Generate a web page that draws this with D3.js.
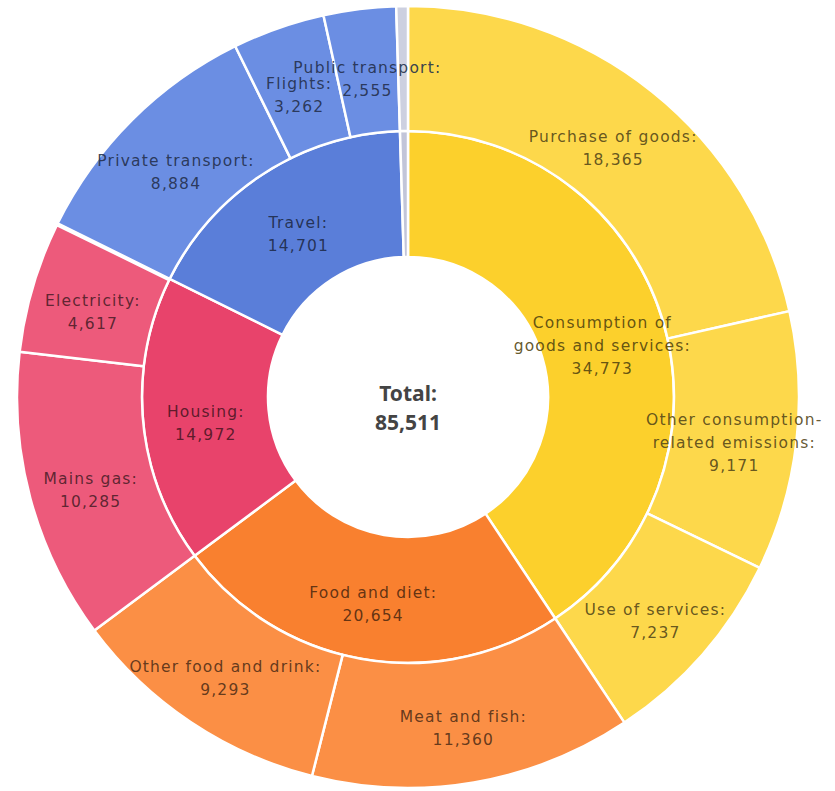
<!DOCTYPE html>
<html>
<head>
<meta charset="utf-8">
<script src="https://cdn.jsdelivr.net/npm/d3@7"></script>
<style>
  html, body { margin: 0; padding: 0; background: #ffffff; }
  svg { display: block; }
</style>
</head>
<body>
<svg id="chart" width="835" height="791"></svg>
<script>
// Emission groups (inner ring)
const groupNames = ["Consumption of\ngoods and services", "Food and diet", "Housing", "Travel", "Other"];
const groupValues = [34773, 20654, 14972, 14701, 411];
const groupColors = ["#fcd02c", "#f9802f", "#e8436b", "#5a7ed9", "#c2c5d9"];

// Emission sources (outer ring), each tied to a group by index
const itemNames = ["Purchase of goods", "Other consumption-\nrelated emissions", "Use of services",
                   "Meat and fish", "Other food and drink",
                   "Mains gas", "Electricity",
                   "Private transport", "Flights", "Public transport",
                   "Other"];
const itemGroups = [0, 0, 0, 1, 1, 2, 2, 3, 3, 3, 4];
const itemValues = [18365, 9171, 7237, 11360, 9293, 10285, 4617, 8884, 3262, 2555, 411];
const itemColors = ["#fdd84b", "#fdd84b", "#fdd84b", "#fb8f45", "#fb8f45",
                    "#ed5a7b", "#ed5a7b", "#6b8ee3", "#6b8ee3", "#6b8ee3", "#cdd0e0"];

const totalLabel = "Total:";
const totalValue = 85511;

const cx = 408, cy = 397;
const rHole = 140, rMid = 266, rOuter = 391;

const svg = d3.select("#chart");
const g = svg.append("g").attr("transform", `translate(${cx},${cy})`);

const fmt = d3.format(",");
const angle = d3.scaleLinear().domain([0, totalValue]).range([0, 2 * Math.PI]);

// Inner ring: cumulative positions of the groups
const groups = [];
let acc = 0;
groupValues.forEach((v, i) => {
  groups.push({ name: groupNames[i], value: v, color: groupColors[i],
                a0: angle(acc), a1: angle(acc + v), start: acc, r0: rHole, r1: rMid });
  acc += v;
});

// Outer ring: sources laid out from the start of their group
const items = [];
const groupCursor = groups.map(d => d.start);
itemValues.forEach((v, i) => {
  const gi = itemGroups[i];
  const s = groupCursor[gi];
  items.push({ name: itemNames[i], value: v, color: itemColors[i],
               a0: angle(s), a1: angle(s + v), r0: rMid, r1: rOuter });
  groupCursor[gi] += v;
});

const arc = d3.arc()
  .innerRadius(d => d.r0)
  .outerRadius(d => d.r1)
  .startAngle(d => d.a0)
  .endAngle(d => d.a1);

const all = groups.concat(items);

g.selectAll("path.seg")
  .data(all)
  .join("path")
  .attr("class", "seg")
  .attr("d", arc)
  .attr("fill", d => d.color)
  .attr("stroke", "#ffffff")
  .attr("stroke-width", 2.5)
  .attr("stroke-linejoin", "round");

// Labels at the centroid of each arc wide enough to hold one
const lineH = 23;
const labelled = all.filter(d => (d.a1 - d.a0) > 0.05);
g.selectAll("text.lbl")
  .data(labelled)
  .join("text")
  .attr("class", "lbl")
  .attr("text-anchor", "middle")
  .attr("font-family", "'DejaVu Sans', sans-serif")
  .attr("font-size", 15.5)
  .attr("letter-spacing", 1.2)
  .attr("fill", d => d3.color(d.color).darker(3.1).formatHex())
  .attr("fill-opacity", 0.9)
  .each(function (d) {
    const lines = (d.name + ":").split("\n").concat([fmt(d.value)]);
    const [x, y] = arc.centroid(d);
    const t = d3.select(this);
    const y0 = y - (lines.length - 1) * lineH / 2 + 13;
    lines.forEach((ln, k) => {
      t.append("tspan").attr("x", x).attr("y", y0 + k * lineH).text(ln);
    });
  });

// Total in the centre
const center = g.append("text")
  .attr("text-anchor", "middle")
  .attr("font-family", "'Noto Sans', sans-serif")
  .attr("font-weight", "bold")
  .attr("font-size", 21)
  .attr("fill", "#444444");
center.append("tspan").attr("x", 0).attr("y", 4).text(totalLabel);
center.append("tspan").attr("x", 0).attr("y", 33).text(fmt(totalValue));
</script>
</body>
</html>
